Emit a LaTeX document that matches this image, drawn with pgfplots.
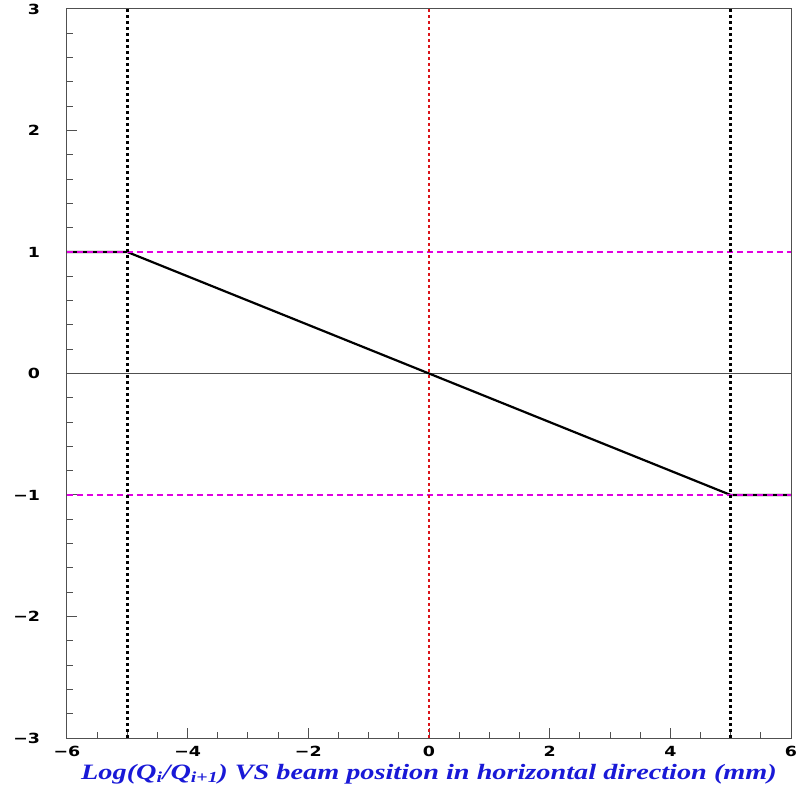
\documentclass[border=0pt]{standalone}
\usepackage{fontspec}
\setmainfont{Liberation Serif}
\setsansfont{DejaVu Sans}
\usepackage{pgfplots}
\pgfplotsset{compat=1.18}
\definecolor{titleblue}{RGB}{25,25,215}
\definecolor{magline}{RGB}{225,0,225}
\definecolor{redline}{RGB}{220,20,25}
\definecolor{framegray}{RGB}{80,80,80}
\begin{document}
\begin{tikzpicture}
\path[use as bounding box] (-67bp,-50bp) rectangle (736bp,738bp);
\begin{axis}[
  scale only axis,
  width=724bp, height=729bp,
  xmin=-6, xmax=6, ymin=-3, ymax=3,
  axis line style={framegray, line width=1bp},
  xtick={-6,-4,-2,0,2,4,6},
  ytick={-3,-2,-1,0,1,2,3},
  xticklabels={−6,−4,−2,0,2,4,6},
  yticklabels={−3,−2,−1,0,1,2,3},
  minor x tick num=3,
  minor y tick num=4,
  tick align=inside,
  xtick pos=bottom, ytick pos=left,
  major tick length=10bp, minor tick length=6bp,
  every tick/.style={framegray, line width=1bp},
  tick label style={font=\sffamily\bfseries\fontsize{14}{16}\selectfont, xscale=1.25},
  xticklabel style={inner sep=1bp, yshift=-7bp},
  yticklabel style={xshift=-18bp},
  clip=false,
]
\addplot[framegray, line width=0.9bp] coordinates {(-6,0) (6,0)};
\addplot[black, line width=2.2bp] coordinates {(-6,1) (-5,1) (5,-1) (6,-1)};
\addplot[magline, line width=2bp, dash pattern=on 6bp off 4bp] coordinates {(-6,1) (6,1)};
\addplot[magline, line width=2bp, dash pattern=on 6bp off 4bp] coordinates {(-6,-1) (6,-1)};
\addplot[black, line width=2.6bp, dash pattern=on 3bp off 3bp] coordinates {(-5,-3) (-5,3)};
\addplot[black, line width=2.6bp, dash pattern=on 3bp off 3bp] coordinates {(5,-3) (5,3)};
\addplot[redline, line width=2.8bp, dash pattern=on 3bp off 3bp] coordinates {(0,-3) (0,3)};
\end{axis}
\node[anchor=base, inner sep=0pt, xscale=1.29, text=titleblue, font=\rmfamily\bfseries\itshape\fontsize{22}{25}\selectfont] at (362bp,-41bp) {Log(Q\textsubscript{i}/Q\textsubscript{i+1}) VS beam position in horizontal direction (mm)};
\end{tikzpicture}
\end{document}
